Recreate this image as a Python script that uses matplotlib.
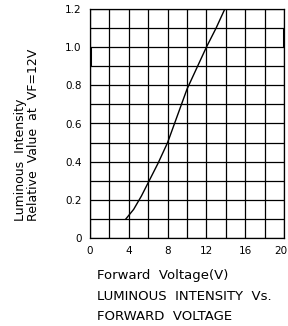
import matplotlib
matplotlib.use("Agg")
import matplotlib.pyplot as plt
import matplotlib.transforms as mtransforms
import numpy as np

vf = [3.7, 4.5, 5.3, 6.0, 7.0, 8.0, 9.0, 10.0, 11.0, 12.0, 13.0, 13.9]
iv = [0.10, 0.15, 0.22, 0.29, 0.39, 0.50, 0.64, 0.78, 0.89, 1.00, 1.10, 1.20]

xticks = [0, 4, 8, 12, 16, 20]
xtick_labels = ["0", "4", "8", "12", "16", "20"]
yticks = [0, 0.2, 0.4, 0.6, 0.8, 1.0, 1.2]
ytick_labels = ["0", "0.2", "0.4", "0.6", "0.8", "1.0", "1.2"]

fig = plt.figure(figsize=(2.88, 3.26), dpi=100)
W, H = 288, 326
ax = fig.add_axes([90 / W, 1 - 238 / H, (284 - 90) / W, (238 - 9) / H])
ax.set_xlim(0, 20)
ax.set_ylim(0, 1.2)
for x in np.arange(0, 21, 2):
    ax.axvline(x, color="black", lw=0.9)
for y in np.arange(0, 1.21, 0.1):
    ax.axhline(y, color="black", lw=0.9)
ax.plot([0, 0], [0.9, 1.0], color="black", lw=2.2, solid_capstyle="butt")
ax.plot([20, 20], [1.0, 1.1], color="black", lw=2.2, solid_capstyle="butt")
ax.plot(vf, iv, color="black", lw=1.0)
ax.set_xticks(xticks)
ax.set_xticklabels(xtick_labels)
ax.set_yticks(yticks)
ax.set_yticklabels(ytick_labels)
ax.tick_params(length=0, labelsize=7.5, pad=6)
last = ax.get_xticklabels()[-1]
last.set_transform(last.get_transform() + mtransforms.ScaledTranslation(-3 / 100, 0, fig.dpi_scale_trans))
for s in ax.spines.values():
    s.set_linewidth(0.9)

fig.text(97 / W, 1 - 276 / H, "Forward  Voltage(V)", fontsize=9.5, va="center", ha="left")
fig.text(97 / W, 1 - 296 / H, "LUMINOUS  INTENSITY  Vs.", fontsize=9.5, va="center", ha="left")
fig.text(97 / W, 1 - 316 / H, "FORWARD  VOLTAGE", fontsize=9.5, va="center", ha="left")
fig.text(27 / W, 1 - 221 / H, "Luminous  Intensity\nRelative  Value  at  VF=12V", fontsize=9,
         rotation=90, va="bottom", ha="center", multialignment="left", linespacing=1.05)

fig.savefig("out.png", dpi=100)
